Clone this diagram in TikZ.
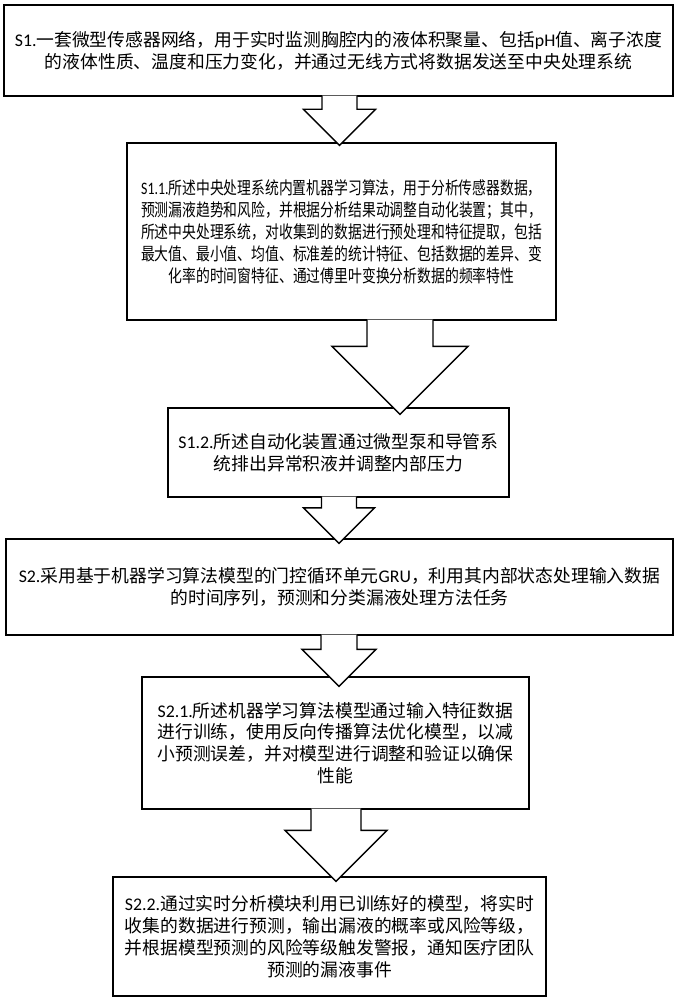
\documentclass[tikz,border=0pt]{standalone}
\usepackage{fontspec}
\setmainfont{Noto Sans CJK SC}
\newfontfamily\lat{Carlito}
\newfontfamily\condcjk[FakeStretch=0.79]{Noto Sans CJK SC}
\newfontfamily\condlat[FakeStretch=0.79]{Carlito}
\usetikzlibrary{calc}
\tikzset{
  box/.style={draw, line width=1.3pt, inner sep=0pt, align=center, text=black},
  barrow/.style={draw, line width=1.3pt, fill=white, line join=miter},
  fmid/.style={font=\fontsize{17.8}{21.8}\selectfont},
  fsmall/.style={font=\condcjk\fontsize{17.5}{22}\selectfont},
}
% #1 source node, #2 target node, #3 centre x, #4 shaft half width, #5 head half width, #6 tip overlap
\newcommand{\blockarrow}[6]{%
  \draw[barrow] let \p1=(#1.south), \p2=(#2.north) in
    ({#3pt-#4pt},{\y1+1pt}) -- ({#3pt-#4pt},{\y2-#6pt+#5pt}) -- ({#3pt-#5pt},{\y2-#6pt+#5pt})
    -- ({#3pt},{\y2-#6pt}) -- ({#3pt+#5pt},{\y2-#6pt+#5pt}) -- ({#3pt+#4pt},{\y2-#6pt+#5pt})
    -- ({#3pt+#4pt},{\y1+1pt});}
\begin{document}
\begin{tikzpicture}[x=1pt,y=-1pt]
\useasboundingbox (0,0) rectangle (678,1000);
\node[box, fmid, minimum width=669pt, minimum height=91pt] (b1) at (338.5,50.5)
  {{\lat S1.}一套微型传感器网络，用于实时监测胸腔内的液体积聚量、包括{\lat pH}值、离子浓度\\
   的液体性质、温度和压力变化，并通过无线方式将数据发送至中央处理系统};
\node[box, fsmall, minimum width=429pt, minimum height=177pt] (b2) at (341.5,231.5)
  {{\condlat S1.1.}所述中央处理系统内置机器学习算法，用于分析传感器数据，\\
   预测漏液趋势和风险，并根据分析结果动调整自动化装置；其中，\\
   所述中央处理系统，对收集到的数据进行预处理和特征提取，包括\\
   最大值、最小值、均值、标准差的统计特征、包括数据的差异、变\\
   化率的时间窗特征、通过傅里叶变换分析数据的频率特性};
\node[box, fmid, minimum width=341pt, minimum height=89pt] (b3) at (338.5,452.5)
  {{\lat S1.2.}所述自动化装置通过微型泵和导管系\\
   统排出异常积液并调整内部压力};
\node[box, fmid, minimum width=667pt, minimum height=96pt] (b4) at (339.5,587)
  {{\lat S2.}采用基于机器学习算法模型的门控循环单元{\lat GRU}，利用其内部状态处理输入数据\\
   的时间序列，预测和分类漏液处理方法任务};
\node[box, fmid, minimum width=387pt, minimum height=132pt] (b5) at (335.5,743)
  {{\lat S2.1.}所述机器学习算法模型通过输入特征数据\\
   进行训练，使用反向传播算法优化模型，以减\\
   小预测误差，并对模型进行调整和验证以确保\\
   性能};
\node[box, fmid, minimum width=433pt, minimum height=119pt] (b6) at (329.5,936.5)
  {{\lat S2.2.}通过实时分析模块利用已训练好的模型，将实时\\
   收集的数据进行预测，输出漏液的概率或风险等级，\\
   并根据模型预测的风险等级触发警报，通知医疗团队\\
   预测的漏液事件};
\blockarrow{b1}{b2}{339.5}{17.5}{36}{3}
\blockarrow{b2}{b3}{400}{33}{68}{7}
\blockarrow{b3}{b4}{339}{17.5}{35.5}{5}
\blockarrow{b4}{b5}{339}{18}{37}{10}
\blockarrow{b5}{b6}{336}{25}{51}{5}
\end{tikzpicture}
\end{document}
